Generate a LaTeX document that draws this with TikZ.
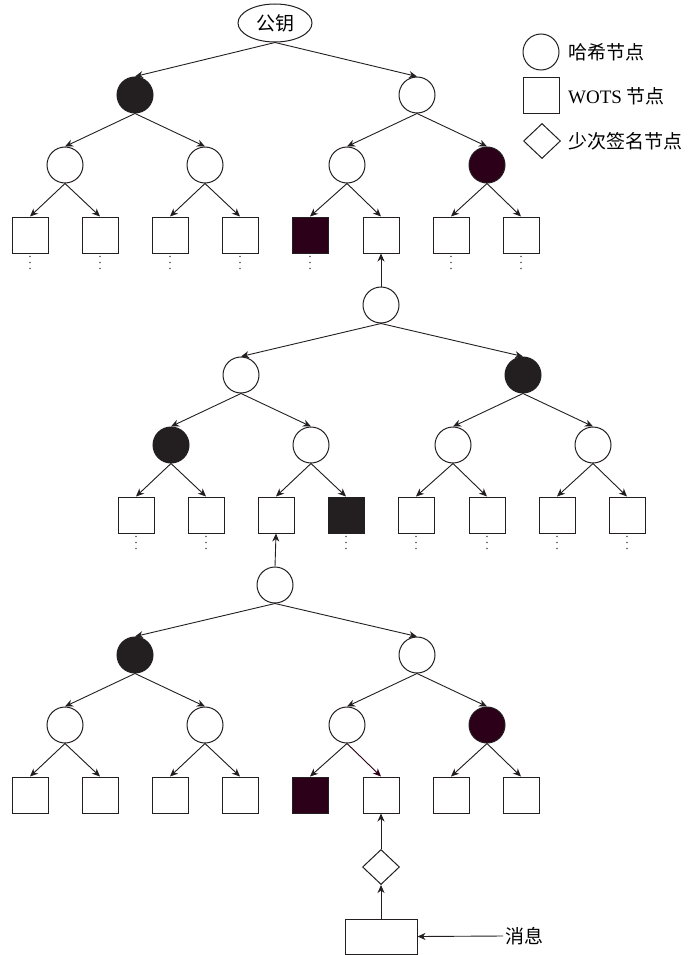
\documentclass[tikz,border=0pt]{standalone}
\usepackage{fontspec}
\setmainfont{Liberation Serif}
\newfontfamily\cjk{Noto Sans CJK SC}
\usetikzlibrary{arrows.meta,shapes.geometric}
\definecolor{inkblack}{HTML}{231F20}
\definecolor{inkplum}{HTML}{2C0018}
\definecolor{dotgray}{HTML}{555555}

% Three levels of a hypertree layer below its root (the root sits at the scope origin).
% #1 name prefix, #2 level-1 x/fill, #3 level-2 x/fill, #4 level-3 x/fill/edge colour/dots
\newcommand\hyperlayer[4]{%
  \foreach \x/\f [count=\i] in {#2} {
    \node[hashnode,\f] (#1L1n\i) at (\x,70) {};
    \draw[edge] (#1root.south) -- (#1L1n\i.north);
  }
  \foreach \x/\f [count=\i, evaluate=\i as \p using {int((\i+1)/2)}] in {#3} {
    \node[hashnode,\f] (#1L2n\i) at (\x,140) {};
    \draw[edge] (#1L1n\p.south) -- (#1L2n\i.north);
  }
  \foreach \x/\f/\c/\d [count=\i, evaluate=\i as \p using {int((\i+1)/2)}] in {#4} {
    \node[wotsnode,\f] (#1L3n\i) at (\x,210) {};
    \draw[edge,draw=\c,fill=\c] (#1L2n\p.south) -- (#1L3n\i.north);
    \ifnum\d=1
      \foreach \k in {3,9,15}
        \fill[dotgray] ([yshift=-\k pt]#1L3n\i.south) circle (0.85pt);
    \fi
  }%
}

\begin{document}
\begin{tikzpicture}[x=1pt,y=-1pt,
  hashnode/.style={circle,draw=inkblack,line width=1pt,minimum size=36pt,inner sep=0pt},
  wotsnode/.style={rectangle,draw=inkblack,line width=1pt,minimum size=36pt,inner sep=0pt},
  fewnode/.style={diamond,draw=inkblack,line width=1pt,minimum width=37pt,minimum height=35pt,inner sep=0pt},
  keynode/.style={ellipse,draw=inkblack,line width=1pt,minimum width=74pt,minimum height=38pt,inner sep=0pt,font=\fontsize{19}{22}\selectfont\cjk},
  msgbox/.style={rectangle,draw=inkblack,line width=1pt,minimum width=72pt,minimum height=35pt,inner sep=0pt},
  plain/.style={fill=white},
  dark/.style={fill=inkblack},
  plum/.style={fill=inkplum},
  edge/.style={draw=inkblack,line width=0.9pt,-{Stealth[length=8pt,width=7pt,inset=2.5pt]}},
  lbl/.style={font=\fontsize{19}{22}\selectfont\cjk,inner sep=0pt,anchor=west},
]
\useasboundingbox (0,0) rectangle (689,955);

% top layer, rooted at the public key
\node[keynode] (t1root) at (275,23) {公钥};
\begin{scope}[shift={(275,25)}]
  \hyperlayer{t1}{-140/dark,142/plain}{-210/plain,-70/plain,72/plain,212/plum}
    {-245/plain/inkblack/1,-175/plain/inkblack/1,-105/plain/inkblack/1,-35/plain/inkblack/1,
     35/plum/inkblack/1,106/plain/inkblack/0,176/plain/inkblack/1,246/plain/inkblack/1}
\end{scope}

% middle layer
\node[hashnode] (t2root) at (381,305) {};
\begin{scope}[shift={(381,305)}]
  \hyperlayer{t2}{-140/plain,142/dark}{-210/dark,-70/plain,72/plain,212/plain}
    {-245/plain/inkblack/1,-175/plain/inkblack/1,-105/plain/inkblack/0,-35/dark/inkblack/1,
     35/plain/inkblack/1,106/plain/inkblack/1,176/plain/inkblack/1,246/plain/inkblack/1}
\end{scope}

% bottom layer
\node[hashnode] (t3root) at (275,585) {};
\begin{scope}[shift={(275,585)}]
  \hyperlayer{t3}{-140/dark,142/plain}{-210/plain,-70/plain,72/plain,212/plum}
    {-245/plain/inkblack/0,-175/plain/inkblack/0,-105/plain/inkblack/0,-35/plain/inkblack/0,
     35/plum/inkblack/0,106/plain/inkplum/0,176/plain/inkblack/0,246/plain/inkblack/0}
\end{scope}

% links between layers
\draw[edge] (t2root.north) -- (t1L3n6.south);
\draw[edge] (t3root.north) -- (t2L3n3.south);

% few-time signature and the message
\node[fewnode] (fts) at (381,867) {};
\node[msgbox] (msg) at (381,936.5) {};
\node[lbl,inner xsep=2pt] (msgtxt) at (503,936) {消息};
\draw[edge] (msg.north) -- (fts.south);
\draw[edge] (fts.north) -- (t3L3n6.south);
\draw[edge] (msgtxt.west) -- (msg.east);

% legend
\node[hashnode] (lgc) at (541,52) {};
\node[wotsnode] (lgs) at (541,95.5) {};
\node[fewnode] (lgd) at (542,141) {};
\node[lbl] (lgct) at (568,52) {哈希节点};
\node[lbl] (lgst) at (568,96) {{\rmfamily WOTS} 节点};
\node[lbl] (lgdt) at (568,141) {少次签名节点};
\end{tikzpicture}
\end{document}
